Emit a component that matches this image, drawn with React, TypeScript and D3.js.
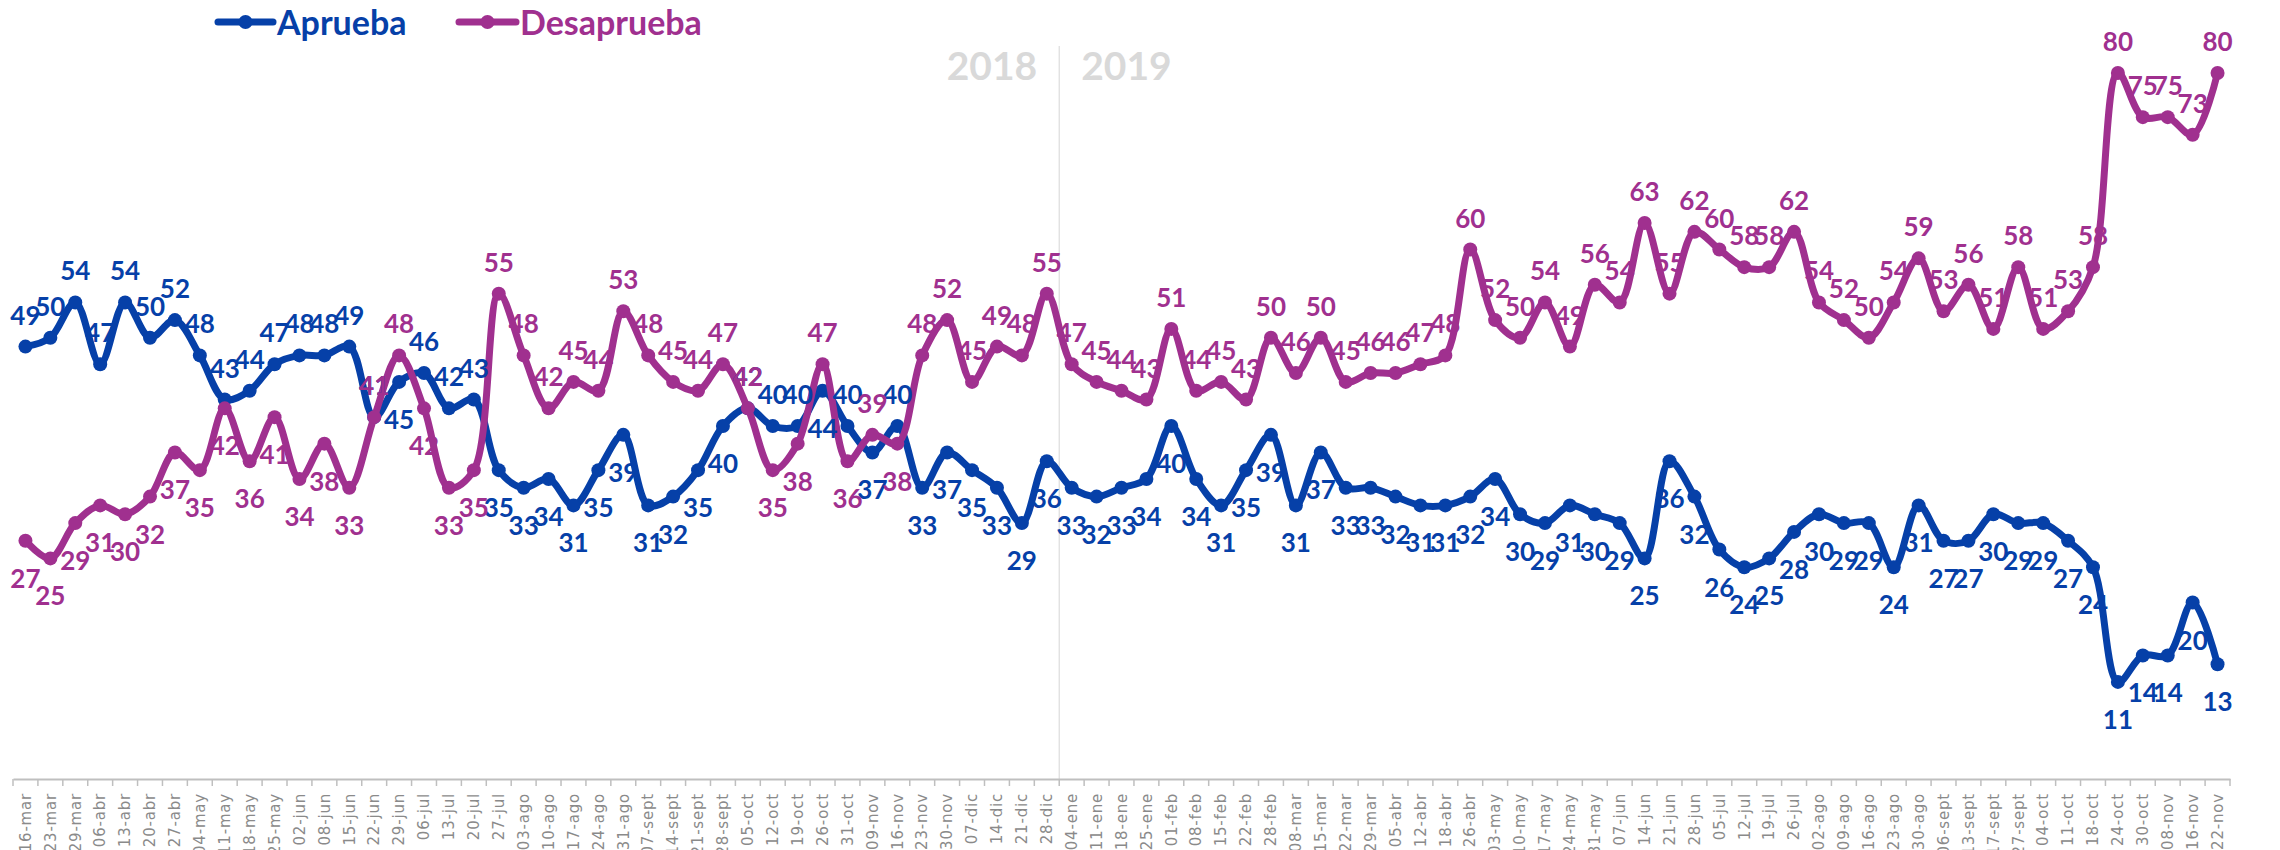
import * as d3 from 'd3'
import React, { useEffect, useRef } from 'react'

const categories = [
  '16-mar', '23-mar', '29-mar', '06-abr', '13-abr', '20-abr', '27-abr', '04-may', '11-may', '18-may',
  '25-may', '02-jun', '08-jun', '15-jun', '22-jun', '29-jun', '06-jul', '13-jul', '20-jul', '27-jul',
  '03-ago', '10-ago', '17-ago', '24-ago', '31-ago', '07-sept', '14-sept', '21-sept', '28-sept', '05-oct',
  '12-oct', '19-oct', '26-oct', '31-oct', '09-nov', '16-nov', '23-nov', '30-nov', '07-dic', '14-dic',
  '21-dic', '28-dic',
  '04-ene', '11-ene', '18-ene', '25-ene', '01-feb', '08-feb', '15-feb', '22-feb', '28-feb', '08-mar',
  '15-mar', '22-mar', '29-mar', '05-abr', '12-abr', '18-abr', '26-abr', '03-may', '10-may', '17-may',
  '24-may', '31-may', '07-jun', '14-jun', '21-jun', '28-jun', '05-jul', '12-jul', '19-jul', '26-jul',
  '02-ago', '09-ago', '16-ago', '23-ago', '30-ago', '06-sept', '13-sept', '17-sept', '27-sept', '04-oct',
  '11-oct', '18-oct', '24-oct', '30-oct', '08-nov', '16-nov', '22-nov'
]

const aprueba = [
  49, 50, 54, 47, 54, 50, 52, 48, 43, 44, 47, 48, 48, 49, 41, 45, 46, 42, 43, 35,
  33, 34, 31, 35, 39, 31, 32, 35, 40, 42, 40, 40, 44, 40, 37, 40, 33, 37, 35, 33,
  29, 36,
  33, 32, 33, 34, 40, 34, 31, 35, 39, 31, 37, 33, 33, 32, 31, 31, 32, 34, 30, 29,
  31, 30, 29, 25, 36, 32, 26, 24, 25, 28, 30, 29, 29, 24, 31, 27, 27, 30, 29, 29,
  27, 24, 11, 14, 14, 20, 13
]

const desaprueba = [
  27, 25, 29, 31, 30, 32, 37, 35, 42, 36, 41, 34, 38, 33, 41, 48, 42, 33, 35, 55,
  48, 42, 45, 44, 53, 48, 45, 44, 47, 42, 35, 38, 47, 36, 39, 38, 48, 52, 45, 49,
  48, 55,
  47, 45, 44, 43, 51, 44, 45, 43, 50, 46, 50, 45, 46, 46, 47, 48, 60, 52, 50, 54,
  49, 56, 54, 63, 55, 62, 60, 58, 58, 62, 54, 52, 50, 54, 59, 53, 56, 51, 58, 51,
  53, 58, 80, 75, 75, 73, 80
]

const seriesNames = ['Aprueba', 'Desaprueba']
const yearLabels = ['2018', '2019']
const first2019 = 42

const BLUE = '#0640a8'
const PURPLE = '#a0308f'
const LABEL_FONT = 'Lato, "Open Sans", sans-serif'

export default function App() {
  const ref = useRef<SVGSVGElement>(null)

  useEffect(() => {
    const width = 2280
    const height = 850
    const svg = d3.select(ref.current)
    svg.selectAll('*').remove()
    svg.attr('width', width).attr('height', height)

    const x = d3.scaleBand<number>()
      .domain(d3.range(categories.length))
      .range([13, 2230])
    const y = d3.scaleLinear().domain([0, 80]).range([779, 73])
    const cx = (i: number) => (x(i) as number) + x.bandwidth() / 2

    // year divider
    const divX = x(first2019) as number
    svg.append('line')
      .attr('x1', divX).attr('x2', divX)
      .attr('y1', 46).attr('y2', y(0))
      .style('stroke', '#dcdcdc')
      .style('stroke-width', 1.2)

    svg.selectAll('text.year')
      .data(yearLabels)
      .enter().append('text')
      .attr('class', 'year')
      .attr('x', (d, i) => i === 0 ? divX - 22 : divX + 22)
      .attr('y', 80)
      .attr('text-anchor', (d, i) => i === 0 ? 'end' : 'start')
      .style('font-family', LABEL_FONT)
      .style('font-weight', 'bold')
      .style('font-size', '39px')
      .style('fill', '#d9d9d9')
      .text(d => d)

    // x axis
    const axis = d3.axisBottom(x)
      .tickSize(0)
      .tickSizeOuter(0)
      .tickFormat(i => categories[i as number])

    const gx = svg.append('g')
      .attr('transform', 'translate(0,' + y(0) + ')')
      .call(axis)
    gx.select('.domain').style('stroke', '#bfbfbf').style('stroke-width', 2)
    gx.selectAll('text')
      .attr('transform', 'rotate(-90)')
      .attr('text-anchor', 'end')
      .attr('x', -14)
      .attr('y', 0)
      .attr('dy', '0.35em')
      .style('font-family', '"DejaVu Sans", Verdana, sans-serif')
      .style('font-size', '15px')
      .style('letter-spacing', '0.8px')
      .style('fill', '#8a8a8a')

    gx.selectAll('line.tick-mark')
      .data(d3.range(categories.length + 1))
      .enter().append('line')
      .attr('class', 'tick-mark')
      .attr('x1', i => x.range()[0] + i * x.step())
      .attr('x2', i => x.range()[0] + i * x.step())
      .attr('y1', 0)
      .attr('y2', 7)
      .style('stroke', '#bfbfbf')
      .style('stroke-width', 1.5)

    // lines
    const series = [
      { name: seriesNames[0], values: aprueba, other: desaprueba, color: BLUE },
      { name: seriesNames[1], values: desaprueba, other: aprueba, color: PURPLE }
    ]

    const line = d3.line<number>()
      .x((d, i) => cx(i))
      .y(d => y(d))
      .curve(d3.curveCatmullRom.alpha(0.5))

    series.forEach(s => {
      svg.append('path')
        .datum(s.values)
        .attr('d', line)
        .style('fill', 'none')
        .style('stroke', s.color)
        .style('stroke-width', 7)
        .style('stroke-linejoin', 'round')

      svg.append('g').selectAll('circle')
        .data(s.values)
        .enter().append('circle')
        .attr('cx', (d, i) => cx(i))
        .attr('cy', d => y(d))
        .attr('r', 7)
        .style('fill', s.color)
    })

    // data labels
    series.forEach(s => {
      svg.append('g').selectAll('text')
        .data(s.values)
        .enter().append('text')
        .attr('x', (d, i) => cx(i))
        .attr('y', (d, i) => d >= s.other[i] ? y(d) - 22 : y(d) + 47)
        .attr('text-anchor', 'middle')
        .style('font-family', LABEL_FONT)
        .style('font-weight', 'bold')
        .style('font-size', '26px')
        .style('fill', s.color)
        .text(d => d)
    })

    // legend
    const legend = svg.append('g')
    const legendPos = [{ x: 218, tx: 277 }, { x: 459, tx: 520 }]
    series.forEach((s, k) => {
      const p = legendPos[k]
      legend.append('line')
        .attr('x1', p.x).attr('x2', p.tx - 4)
        .attr('y1', 22).attr('y2', 22)
        .style('stroke', s.color)
        .style('stroke-width', 7)
        .style('stroke-linecap', 'round')
      legend.append('circle')
        .attr('cx', (p.x + p.tx - 4) / 2)
        .attr('cy', 22)
        .attr('r', 7)
        .style('fill', s.color)
      legend.append('text')
        .attr('x', p.tx)
        .attr('y', 35)
        .style('font-family', LABEL_FONT)
        .style('font-weight', 'bold')
        .style('font-size', '34px')
        .style('fill', s.color)
        .text(s.name)
    })
  }, [])

  return (
    <svg ref={ref} style={{ position: 'absolute', left: 0, top: 0, background: '#fff' }} />
  )
}
